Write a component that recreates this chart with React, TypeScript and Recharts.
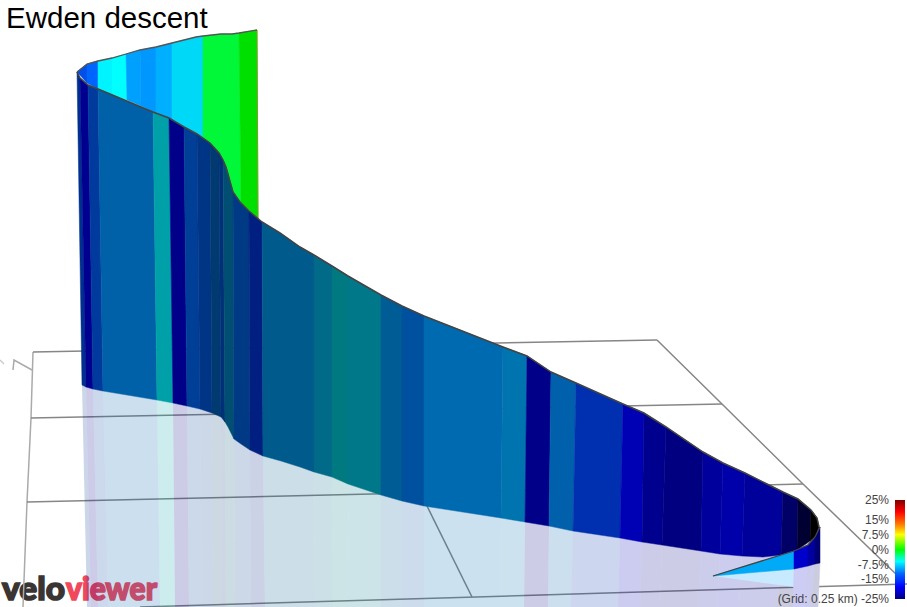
import { Bar, BarChart, Scatter, ScatterChart, XAxis, YAxis } from 'recharts'

const WIDTH = 907
const HEIGHT = 607
const FONT = '"Liberation Sans", Arial, sans-serif'
const LOGO_FONT = 'Lato, "Open Sans", sans-serif'

// front wall of the ribbon, one entry per strip edge
const wallTopX = [77, 80, 88, 98, 153, 169, 184, 197, 210, 219, 223, 226, 233, 240, 249, 262, 280, 300, 314, 332, 348, 381, 402, 424, 503, 527, 551, 576, 623, 644, 666, 703, 723, 745, 765, 783, 798, 811, 817, 819]
const wallTopY = [72, 78, 85, 89, 112, 118, 127, 134, 143, 153, 160, 167, 192, 202, 211, 222, 233, 247, 255, 266, 276, 295, 306, 316, 347, 356, 372, 383, 404, 413, 427, 452, 463, 473, 483, 492, 499, 510, 518, 527]
const wallBaseX = [82, 86, 93, 103, 157, 173, 187, 200, 212, 221, 225, 228, 234, 241, 250, 263, 281, 300, 314, 332, 348, 381, 402, 424, 501, 525, 549, 573, 620, 642, 662, 701, 720, 742, 763, 781, 797, 810, 815, 819]
const wallBaseY = [385, 387, 389, 391, 400, 403, 406, 409, 413, 417, 422, 427, 439, 444, 450, 456, 461, 467, 472, 477, 484, 495, 501, 506, 518, 522, 526, 531, 538, 542, 545, 551, 554, 556, 557, 555, 550, 541, 537, 527]
const floorX = [87, 91, 98, 108, 160, 175, 189, 202, 214, 222, 226, 229, 235, 242, 251, 265, 282, 301, 315, 333, 349, 381, 402, 424, 500, 524, 548, 571, 618, 640, 660, 698, 717, 739, 760, 777, 794, 808, 815, 818]
const wallColours = ['#00308f', '#000090', '#003a9c', '#0060a8', '#00a0a8', '#000088', '#003f98', '#003585', '#003a70', '#003078', '#004f73', '#004f73', '#003a85', '#003a85', '#001f80', '#005a8c', '#005a8c', '#005a8c', '#006a88', '#007a80', '#00788a', '#005c94', '#0050a0', '#006ab0', '#0074ae', '#000088', '#0060ac', '#0030b0', '#0000b4', '#00008f', '#000080', '#00009c', '#0000aa', '#00009a', '#00009a', '#000066', '#000033', '#000000', '#000000']

// back panel, the bright climb behind the wall
const backTopX = [77, 87, 98, 112, 126, 140, 156, 172, 188, 196, 203, 212, 221, 226, 232, 239, 257]
const backTopY = [72, 64, 61, 58, 54, 50, 47, 43, 39, 37, 36, 35, 34, 34, 34, 33, 30]
const backBaseX = [77, 87, 98, 112, 127, 141, 156, 172, 184, 198, 203, 210, 219, 226, 233, 241, 258]
const backBaseY = [72, 83, 89, 95, 100, 106, 113, 120, 127, 134, 138, 143, 153, 167, 192, 203, 219]
const backColours = ['#0050e8', '#0064ff', '#00f4ff', '#00ffff', '#00a0ff', '#0098ff', '#00b0ff', '#00d8f8', '#00d8f8', '#00d8f8', '#00f838', '#00f838', '#00f838', '#00f838', '#00f838', '#00e000']

// short return stretch at the far end
const returnTopX = [713, 794, 808, 815, 820]
const returnTopY = [576, 551, 545, 537, 527]
const returnBaseX = [713, 794, 808, 815, 820]
const returnBaseY = [576, 569, 566, 564, 563]
const returnColours = ['#00aaf6', '#0000cc', '#0000a0', '#000070']
const returnFloorX = [713, 793, 806, 813, 818]
const returnShadeColours = ['#c8eaff', '#ccccf4', '#ccccec', '#ccccdf']
const tailShade = [[713, 576], [794, 569], [794, 587]]

// ground grid, 0.25 km squares
const gridLeft = [[33, 352], [31, 418], [27, 502], [23, 607]]
const gridLines = [
  [[33, 352], [657, 340]],
  [[31, 418], [722, 404]],
  [[27, 502], [803, 484]],
  [[140, 607], [907, 584]],
  [[657, 340], [722, 404], [803, 484], [900, 578]],
  [[427, 506], [472, 597]],
]
const northMark = [[13, 370], [14, 360], [32, 370]]
const northTail = [[0, 360], [4, 364]]

const gradeTicks = [25, 15, 7.5, 0, -7.5, -15, -25]
const gradeBar = [{ name: 'grade', range: [-25, 25] }]
const gradeOffsets = ['0%', '12%', '25%', '35%', '50%', '62%', '75%', '88%', '100%']
const gradeColours = ['#800000', '#ff0000', '#ff7f00', '#ffff00', '#00ff00', '#00ffff', '#0060ff', '#0000ff', '#000080']

type Pt = { x: number; y: number }

const toPts = (list: number[][]): Pt[] => list.map(([x, y]) => ({ x, y }))
const outline = (xs: number[], ys: number[]): Pt[] => xs.map((x, i) => ({ x, y: ys[i] }))
const noDot = () => <g />

// neighbouring strips of one colour become one polygon, so no seam shows inside them
function runs(colours: string[]) {
  const out: { from: number; to: number; colour: string }[] = []
  colours.forEach((colour, i) => {
    const last = out[out.length - 1]
    if (last && last.colour === colour) last.to = i + 1
    else out.push({ from: i, to: i + 1, colour })
  })
  return out
}

// closed polygon along curve a and back along curve b, from edge `from` to edge `to`
function band(ax: number[], ay: number[], bx: number[], by: number[], from: number, to: number): Pt[] {
  const a = outline(ax, ay).slice(from, to + 1)
  const b = outline(bx, by).slice(from, to + 1).reverse()
  return [...a, ...b, a[0]]
}

function poly(key: string, data: Pt[], fill: string, opacity = 1, seam = true) {
  return (
    <Scatter
      key={key}
      data={data}
      shape={noDot}
      isAnimationActive={false}
      line={{ fill, fillOpacity: opacity, stroke: seam ? fill : 'none', strokeWidth: seam ? 0.5 : 0 }}
    />
  )
}

function path(key: string, data: Pt[], stroke: string, strokeWidth: number) {
  return (
    <Scatter
      key={key}
      data={data}
      shape={noDot}
      isAnimationActive={false}
      line={{ fill: 'none', stroke, strokeWidth }}
    />
  )
}

const floorY = wallBaseX.map(() => HEIGHT)
const returnFloorY = returnBaseX.map(() => HEIGHT)
const lastBack = backTopX.length - 1

export default function App() {
  return (
    <div style={{ position: 'fixed', left: 0, top: 0, width: WIDTH, height: HEIGHT, overflow: 'hidden', background: '#fff' }}>
      <ScatterChart width={WIDTH} height={HEIGHT} margin={{ top: 0, right: 0, bottom: 0, left: 0 }}>
        <XAxis dataKey='x' type='number' domain={[0, WIDTH]} hide />
        <YAxis dataKey='y' type='number' domain={[0, HEIGHT]} reversed hide />

        {path('grid-left', toPts(gridLeft), '#aaaaaa', 1.5)}
        {path('north', toPts(northMark), '#aaaaaa', 1.5)}
        {path('north-tail', toPts(northTail), '#cccccc', 1.5)}
        {gridLines.map((line, i) => path(`grid-${i}`, toPts(line), '#868686', 1.5))}

        {runs(wallColours).map((r) => poly(`shade-${r.from}`, band(wallBaseX, wallBaseY, floorX, floorY, r.from, r.to), r.colour, 0.2, false))}
        {runs(backColours).map((r) => poly(`back-${r.from}`, band(backTopX, backTopY, backBaseX, backBaseY, r.from, r.to), r.colour))}
        {path('back-edge', [{ x: backTopX[lastBack], y: backTopY[lastBack] }, { x: backBaseX[lastBack], y: backBaseY[lastBack] }], '#80a020', 1)}
        {path('back-top', outline(backTopX, backTopY), '#555555', 1.3)}
        {runs(wallColours).map((r) => poly(`wall-${r.from}`, band(wallTopX, wallTopY, wallBaseX, wallBaseY, r.from, r.to), r.colour))}

        {poly('tail-shade', toPts(tailShade), returnShadeColours[0])}
        {returnShadeColours.slice(1).map((c, i) => poly(`return-shade-${i}`, band(returnBaseX, returnBaseY, returnFloorX, returnFloorY, i + 1, i + 2), c))}
        {runs(returnColours).map((r) => poly(`return-${r.from}`, band(returnTopX, returnTopY, returnBaseX, returnBaseY, r.from, r.to), r.colour))}

        {path('wall-top', outline(wallTopX, wallTopY), '#444444', 1.5)}
        {path('return-top', outline(returnTopX, returnTopY), '#444444', 1.3)}

        <text x={6} y={28} fontFamily={FONT} fontSize={29.5} fill='#000'>Ewden descent</text>
        <text x={2} y={600} fontFamily={LOGO_FONT} fontWeight={900} fontSize={33} textLength={63} lengthAdjust='spacingAndGlyphs' fill='#3a3533' stroke='#3a3533' strokeWidth={1.6}>velo</text>
        <text x={66} y={600} fontFamily={LOGO_FONT} fontWeight={900} fontSize={33} textLength={91} lengthAdjust='spacingAndGlyphs' fill='#f2485c' stroke='#f2485c' strokeWidth={1.6}>viewer</text>
      </ScatterChart>

      <div style={{ position: 'absolute', left: 751, top: 490, width: 156, height: 117 }}>
        <BarChart width={156} height={117} data={gradeBar} barCategoryGap={0} margin={{ top: 10, right: 2, bottom: 8, left: 0 }}>
          <defs>
            <linearGradient id='gradeScale' x1='0' y1='0' x2='0' y2='1'>
              {gradeColours.map((c, i) => <stop key={c} offset={gradeOffsets[i]} stopColor={c} />)}
            </linearGradient>
          </defs>
          <XAxis dataKey='name' hide />
          <YAxis
            type='number'
            width={144}
            domain={[-25, 25]}
            ticks={gradeTicks}
            interval={0}
            axisLine={false}
            tickLine={false}
            tickSize={0}
            tickMargin={6}
            tick={{ fontFamily: FONT, fontSize: 12, fill: '#444' }}
            tickFormatter={(v: number) => (v === -25 ? `(Grid: 0.25 km) ${v}%` : `${v}%`)}
          />
          <Bar dataKey='range' fill='url(#gradeScale)' isAnimationActive={false} />
        </BarChart>
      </div>
    </div>
  )
}
